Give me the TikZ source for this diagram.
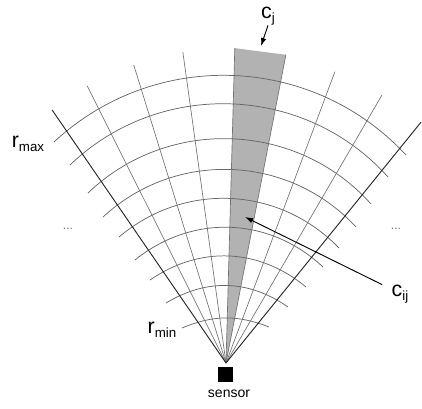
\documentclass[tikz,border=0pt]{standalone}
\usepackage{fontspec}
\setmainfont{Liberation Sans}
\usetikzlibrary{arrows.meta,positioning}
\newcommand{\symlbl}[2]{{\fontsize{16}{16}\selectfont #1}\raisebox{-3pt}{\fontsize{10}{10}\selectfont #2}}

\begin{document}
\begin{tikzpicture}[x=0.75pt, y=0.75pt,
  ring/.style={draw=black!60, line width=0.55pt},
  beam/.style={draw=black!55, line width=0.5pt},
  bound/.style={draw=black!85, line width=0.7pt},
  cell/.style={fill=black!30},
  lbl/.style={inner sep=0pt},
  dots/.style={inner sep=0pt, text=black!60, font=\fontsize{9}{9}\selectfont},
  pointer/.style={-{Latex[length=6pt,width=4pt]}, line width=0.7pt}
]
\useasboundingbox (-226,-45) rectangle (196,363);
\coordinate (apex) at (0,0);

% column c_j
\fill[cell] (apex) -- (88.4:315) -- (79.0:314) -- cycle;

% range rings, r_max down to r_min
\foreach \lx/\ly/\rx/\ry/\b in {-172/221/180/208/45, -156/198/162/186/46,
    -138/170/145/159/46, -123/146/130/136/45, -107/126/113/115/43,
    -91/103/97/96/41, -76/83/80/76/37, -60/60/62/56/33, -44/35/43/36/22}
  \draw[ring] (\lx,\ly) to[bend left=\b] (\rx,\ry);

% beams
\foreach \a/\r in {116.6/310, 107.2/312, 97.9/314, 88.4/315,
    79.0/314, 69.5/311, 59.8/310}
  \draw[beam] (apex) -- (\a:\r);
\draw[bound] (apex) -- (124.5:307);
\draw[bound] (apex) -- (51.0:310);

% sensor
\node[fill=black, inner sep=0pt, minimum size=11.25pt] (sensor) at (-0.5,-11.5) {};
\node[anchor=base, inner sep=0pt, font=\fontsize{10.5}{12}\selectfont] (senstext) at (3,-34) {sensor};

% labels
\node[lbl] (rmax) at (-198,219) {\symlbl{r}{max}};
\node[lbl] (rmin) at (-64,33) {\symlbl{r}{min}};
\node[lbl] (cj) at (42,347) {\symlbl{c}{j}};
\node[lbl] (cij) at (174,69) {\symlbl{c}{ij}};
\node[dots] (ldots) at (-158,134) {...};
\node[dots] (rdots) at (170,134) {...};

\coordinate (cjtip) at (35,317);
\coordinate (cijtip) at (19,146);
\draw[pointer] (cj.south) -- (cjtip);
\draw[pointer] ([xshift=-7pt]cij.north west) -- (cijtip);

\end{tikzpicture}
\end{document}
